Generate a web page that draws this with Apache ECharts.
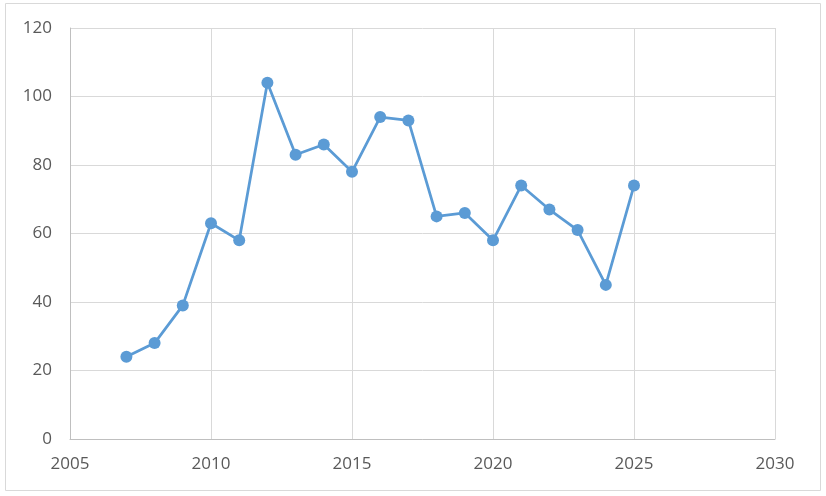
<!DOCTYPE html>
<html><head><meta charset="utf-8">
<script src="https://cdn.jsdelivr.net/npm/echarts@6/dist/echarts.min.js"></script>
<style>html,body{margin:0;padding:0;background:#fff}#c{width:826px;height:496px}</style>
</head><body><div id="c"></div>
<script>
var years = [2007,2008,2009,2010,2011,2012,2013,2014,2015,2016,2017,2018,2019,2020,2021,2022,2023,2024,2025];
var values = [24,28,39,63,58,104,83,86,78,94,93,65,66,58,74,67,61,45,74];
var data = years.map(function(y,i){return [y, values[i]];});
var chart = echarts.init(document.getElementById('c'));
chart.setOption({
  animation:false,
  graphic:[{type:'rect',shape:{x:5.5,y:3.5,width:815,height:487},style:{fill:'none',stroke:'#d9d9d9',lineWidth:1}}],
  grid:{left:70,right:51,top:28,bottom:57},
  xAxis:{type:'value',min:2005,max:2030,interval:5,
    axisLine:{show:true,onZero:false,lineStyle:{color:'#bfbfbf',width:1}},
    axisTick:{show:false},
    axisLabel:{color:'#595959',fontSize:17,fontFamily:'Open Sans',margin:17,formatter:function(v){return String(v);}},
    splitLine:{show:true,lineStyle:{color:'#d9d9d9',width:1}}},
  yAxis:{type:'value',min:0,max:120,interval:20,
    axisLine:{show:true,lineStyle:{color:'#bfbfbf',width:1}},
    axisTick:{show:false},
    axisLabel:{color:'#595959',fontSize:17,fontFamily:'Open Sans',margin:18},
    splitLine:{show:true,lineStyle:{color:'#d9d9d9',width:1}}},
  series:[{type:'line',data:data,symbol:'circle',symbolSize:12,
    lineStyle:{color:'#5b9bd5',width:2.75},itemStyle:{color:'#5b9bd5'}}]
});
</script></body></html>
